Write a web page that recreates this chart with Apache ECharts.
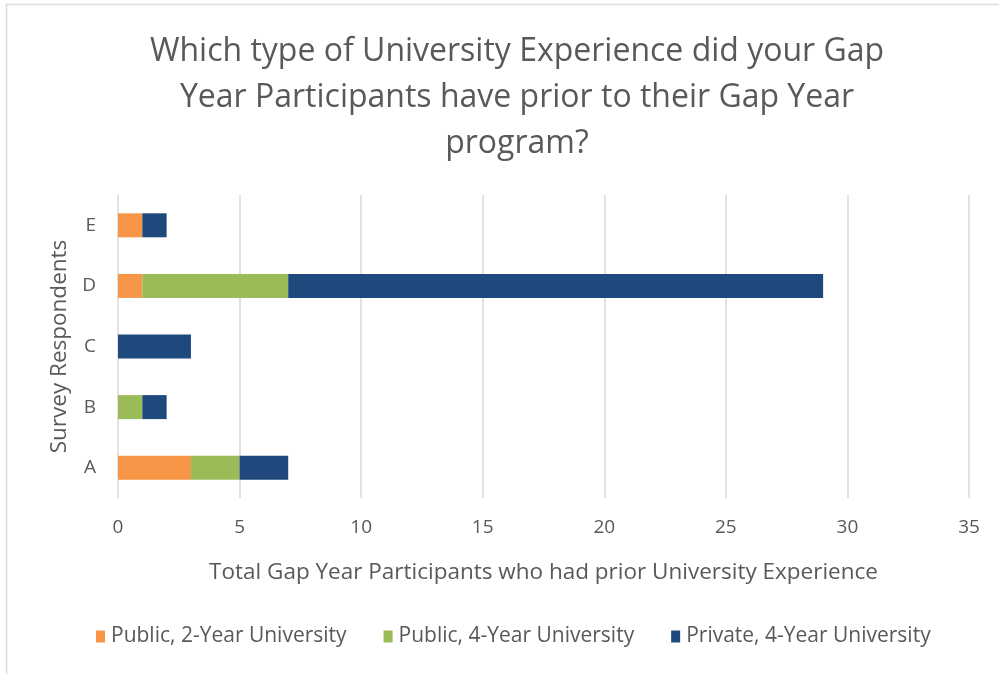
<!DOCTYPE html>
<html>
<head>
<meta charset="utf-8">
<style>
  html, body { margin: 0; padding: 0; background: #fff; }
  #chart { width: 999px; height: 674px; }
</style>
<script src="https://cdn.jsdelivr.net/npm/echarts@6/dist/echarts.min.js"></script>
</head>
<body>
<div id="chart"></div>
<script>
// Respondent groups (bottom to top on the category axis)
const respondents = ['A', 'B', 'C', 'D', 'E'];

// Participants per university type, one value per respondent
const public2Year = [3, 0, 0, 1, 1];
const public4Year = [2, 1, 0, 6, 0];
const private4Year = [2, 1, 3, 22, 1];

const seriesNames = ['Public, 2-Year University', 'Public, 4-Year University', 'Private, 4-Year University'];
const seriesColors = ['#F79646', '#9BBB59', '#1F497D'];

const FONT = '"Open Sans", Lato, sans-serif';
const TEXT = '#595959';

const chart = echarts.init(document.getElementById('chart'), null, { renderer: 'canvas' });

function barSeries(name, values, color) {
  return {
    name: name,
    type: 'bar',
    stack: 'total',
    barWidth: 24,
    itemStyle: { color: color },
    emphasis: { disabled: true },
    data: values
  };
}

chart.setOption({
  backgroundColor: '#fff',
  animation: false,
  graphic: [{
    type: 'rect',
    shape: { x: 6.5, y: 4.5, width: 1100, height: 800 },
    style: { fill: 'none', stroke: '#dcdcdc', lineWidth: 1.5 },
    silent: true
  }],
  title: {
    text: 'Which type of University Experience did your Gap\nYear Participants have prior to their Gap Year\nprogram?',
    left: 512,
    top: 24,
    textAlign: 'center',
    textStyle: {
      fontFamily: FONT,
      fontSize: 32,
      fontWeight: 'normal',
      color: TEXT,
      lineHeight: 46
    }
  },
  legend: {
    bottom: 22,
    left: 91,
    itemWidth: 9,
    itemHeight: 12,
    itemGap: 37,
    icon: 'rect',
    textStyle: { fontFamily: FONT, fontSize: 21, color: TEXT, padding: [0, 0, 0, 1] },
    data: seriesNames
  },
  grid: { left: 118, right: 30, top: 195, bottom: 176, containLabel: false },
  xAxis: {
    type: 'value',
    min: 0,
    max: 35,
    interval: 5,
    name: 'Total Gap Year Participants who had prior University Experience',
    nameLocation: 'middle',
    nameGap: 63,
    nameTextStyle: { fontFamily: FONT, fontSize: 22.5, color: TEXT },
    axisLine: { show: false },
    axisTick: { show: false },
    axisLabel: { fontFamily: FONT, fontSize: 19, color: TEXT, margin: 20 },
    splitLine: { show: true, lineStyle: { color: '#d9d9d9', width: 1.5 } }
  },
  yAxis: {
    type: 'category',
    data: respondents,
    name: 'Survey Respondents',
    nameLocation: 'middle',
    nameRotate: 90,
    nameGap: 45,
    nameTextStyle: { fontFamily: FONT, fontSize: 22.5, color: TEXT },
    axisLine: { show: false },
    axisTick: { show: false },
    axisLabel: { fontFamily: FONT, fontSize: 19, color: TEXT, margin: 22 },
    splitLine: { show: false }
  },
  series: [
    barSeries(seriesNames[0], public2Year, seriesColors[0]),
    barSeries(seriesNames[1], public4Year, seriesColors[1]),
    barSeries(seriesNames[2], private4Year, seriesColors[2])
  ]
});
</script>
</body>
</html>
